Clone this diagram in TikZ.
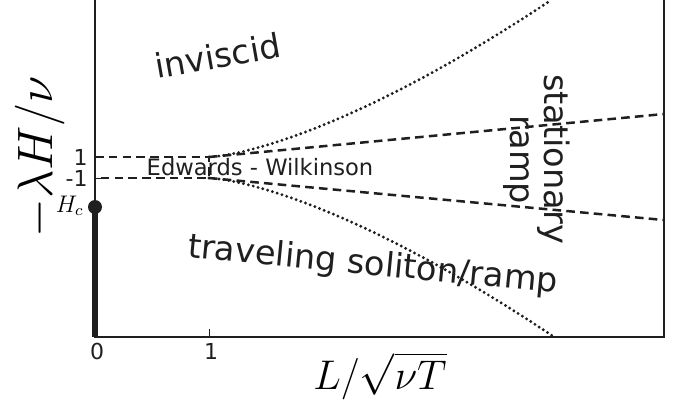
\documentclass[tikz,border=0pt]{standalone}
\usepackage{fontspec}
\setmainfont{DejaVu Sans}
\begin{document}
\begin{tikzpicture}[x=0.5pt,y=-0.5pt,
  axisline/.style={line width=0.9pt, draw=black!88},
  tickline/.style={line width=0.5pt, draw=black!88},
  bndline/.style={line width=1.25pt, draw=black!88, dash pattern=on 4.3pt off 2.6pt},
  crossline/.style={line width=1.6pt, draw=black!88, line cap=round, dash pattern=on 0pt off 2.5pt},
  ticklabel/.style={font=\fontsize{11}{13}\selectfont, text=black!88, inner sep=0pt},
  region/.style={font=\fontsize{16.8}{20}\selectfont, text=black!88, inner sep=0pt},
  axislabel/.style={font=\fontsize{22}{26}\selectfont, inner sep=0pt}]
\useasboundingbox (0,0) rectangle (682,409);
% frame
\coordinate (tl) at (95,0);
\coordinate (bl) at (95,337);
\coordinate (br) at (664,337);
\coordinate (tr) at (664,0);
\draw[axisline] (tl) -- (bl) -- (br) -- (tr);
% ticks
\coordinate (x1b) at (209,337);
\coordinate (x1t) at (209,329);
\coordinate (yp) at (95,157);
\coordinate (ypi) at (103,157);
\coordinate (ym) at (95,178);
\coordinate (ymi) at (103,178);
\draw[tickline] (x1b) -- (x1t);
\draw[tickline] (yp) -- (ypi);
\draw[tickline] (ym) -- (ymi);
% thick critical segment
\node[circle, fill=black!88, inner sep=0pt, minimum size=7pt] (hc) at (95,207) {};
\draw[line width=2.6pt, draw=black!88] (hc.center) -- (bl);
% EW box and boundaries
\coordinate (ewp) at (209,157);
\coordinate (ewm) at (209,178);
\coordinate (rp) at (664,114);
\coordinate (rm) at (664,220);
\draw[bndline] (yp) -- (ewp) -- (ewm) -- (ym);
\draw[bndline] (ewp) -- (rp);
\draw[bndline] (ewm) -- (rm);
% crossover curves
\draw[crossline] (ewp) -- plot[domain=0.01:342, samples=60] ({209+\x}, {157-0.0332*pow(\x,1.45)});
\draw[crossline] (ewm) -- plot[domain=0.01:344, samples=60] ({209+\x}, {178+0.0332*pow(\x,1.45)});
% tick labels
\node[ticklabel, anchor=base] (l0) at (97,359) {0};
\node[ticklabel, anchor=base] (l1) at (211,359) {1};
\node[ticklabel, anchor=base east] (lp) at (88,165) {1};
\node[ticklabel, anchor=base east] (lm) at (88,186) {-1};
\node[font=\fontsize{11.7}{14}\selectfont, inner sep=0pt, anchor=base east] (hcl) at (84,212) {$H_c$};
% axis labels
\node[font=\fontsize{23}{28}\selectfont, inner sep=0pt, rotate=90] (ylab) at (40,157) {$-\lambda H/\nu$};
\node[axislabel] (xlab) at (380,376) {$L/\sqrt{\nu T}$};
% region labels
\node[region, rotate=10, anchor=base] (inv) at (220,68) {inviscid};
\node[font=\fontsize{11.3}{13}\selectfont, text=black!88, inner sep=0pt, anchor=base] (ew) at (260,175) {Edwards - Wilkinson};
\node[region, rotate=-5.5, anchor=base] (trav) at (372,275) {traveling soliton/ramp};
\node[region, rotate=-90, anchor=base] (stat) at (545,159) {stationary};
\node[region, rotate=-90, anchor=base] (ramp) at (510,160) {ramp};
\end{tikzpicture}
\end{document}
